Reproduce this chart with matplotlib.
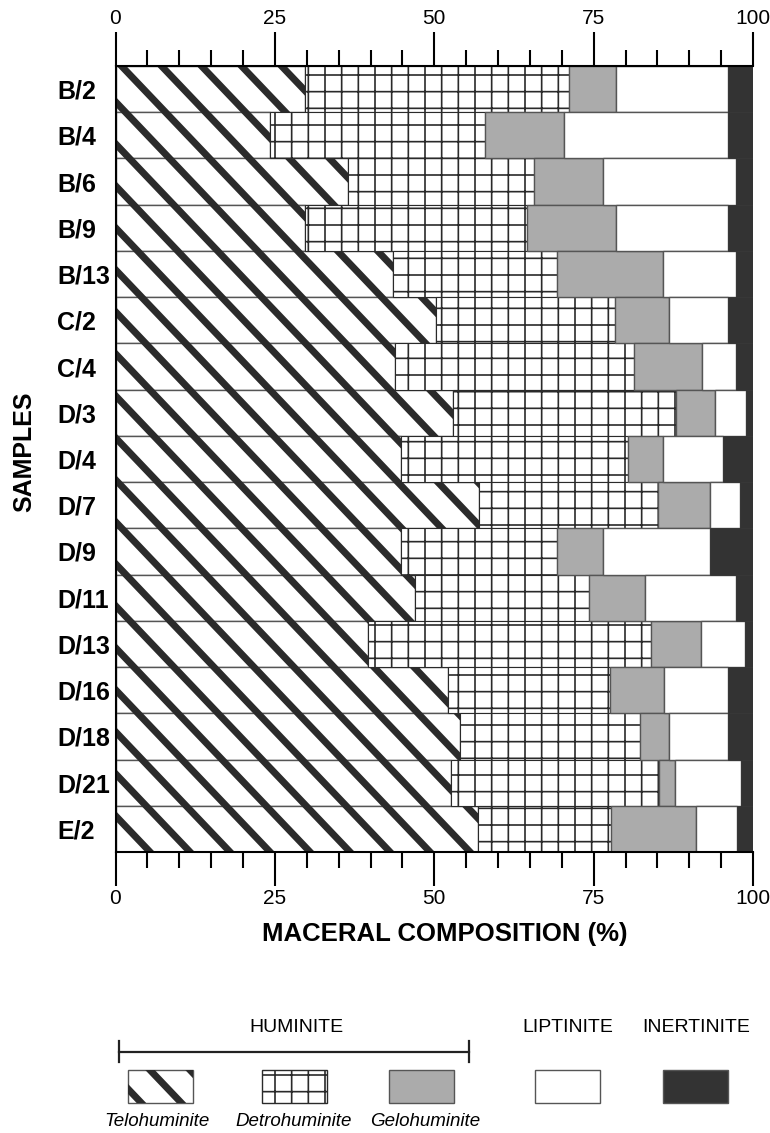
import matplotlib
matplotlib.use("Agg")
import matplotlib.pyplot as plt
from matplotlib.collections import LineCollection
from matplotlib.patches import Rectangle
from matplotlib.ticker import MultipleLocator

plt.rcParams.update({
    "font.family":     ["Liberation Sans", "DejaVu Sans"],
    "hatch.linewidth": 1.2,
})

# ---------------------------------------------------------------------------
# Datos (% de composición maceral)
# ---------------------------------------------------------------------------
samples = ["B/2", "B/4", "B/6", "B/9", "B/13", "C/2", "C/4", "D/3", "D/4",
           "D/7", "D/9", "D/11", "D/13", "D/16", "D/18", "D/21", "E/2"]
telohuminite  = [29.8, 24.2, 36.5, 29.8, 43.5, 50.2, 43.8, 52.9, 44.8,
                 57.0, 44.8, 47.0, 39.6, 52.2, 54.1, 52.7, 56.8]
detrohuminite = [41.3, 33.7, 29.2, 34.8, 25.7, 28.2, 37.6, 35.0, 35.6,
                 28.1, 24.5, 27.2, 44.4, 25.3, 28.1, 32.6, 21.0]
gelohuminite  = [7.4, 12.4, 10.8, 13.9, 16.7, 8.5, 10.6, 6.2, 5.5,
                 8.2, 7.2, 8.8, 7.8, 8.6, 4.7, 2.5, 13.2]
liptinite     = [17.6, 25.8, 20.8, 17.6, 11.4, 9.2, 5.3, 4.8, 9.4,
                 4.7, 16.8, 14.3, 7.0, 10.0, 9.2, 10.3, 6.5]
inertinite    = [3.9, 3.9, 2.7, 3.9, 2.7, 3.9, 2.7, 1.1, 4.7,
                 2.0, 6.7, 2.7, 1.2, 3.9, 3.9, 1.9, 2.5]

STRIPE = "#2b2b2b"
EDGE   = "#555555"
GELO   = "#ababab"
INERT  = "#333333"

W, H = 770, 1133
AX_L, AX_R, AX_T, AX_B = 115.5, 753.0, 66.0, 852.0
PX_X = (AX_R - AX_L) / 100.0
PX_Y = (AX_B - AX_T) / len(samples)
SLOPE = 1.05      # pendiente de las franjas (px abajo por px a la derecha)
SPACING = 40.0    # separación horizontal de franjas (px)


def add_stripes(ax, rect, to_data, box, anchor):
    """Franjas diagonales gruesas (telohuminita) recortadas al rectángulo."""
    x0, y0, x1, y1 = box
    ax_, ay_ = anchor
    segs = []
    for k in range(-60, 60):
        xa = ax_ + k * SPACING
        xt = xa + (y0 - ay_) / SLOPE
        xb = xa + (y1 - ay_) / SLOPE
        if xb < x0 - 10 or xt > x1 + 10:
            continue
        segs.append([to_data(xt - 5, y0 - 5 * SLOPE), to_data(xb + 5, y1 + 5 * SLOPE)])
    lc = LineCollection(segs, colors=STRIPE, linewidths=5.0,
                        capstyle="butt", zorder=rect.get_zorder() + 0.1)
    ax.add_collection(lc, autolim=False)
    lc.set_clip_path(rect)


fig = plt.figure(figsize=(W / 100, H / 100), dpi=100)
ax = fig.add_axes([AX_L / W, 1 - AX_B / H, (AX_R - AX_L) / W, (AX_B - AX_T) / H])

ypos = list(range(len(samples)))
left = [0.0] * len(samples)

def main_to_data(xp, yp):
    return ((xp - AX_L) / PX_X, (yp - AX_T) / PX_Y - 0.5)

bars_t = ax.barh(ypos, telohuminite, left=left, height=1.0,
                 color="white", edgecolor=EDGE, linewidth=1.0, zorder=2)
for i, p in enumerate(bars_t.patches):
    add_stripes(ax, p, main_to_data,
                (AX_L, AX_T + i * PX_Y, AX_L + telohuminite[i] * PX_X, AX_T + (i + 1) * PX_Y),
                (AX_L + 6.0, AX_T))
left = [l + v for l, v in zip(left, telohuminite)]

ax.barh(ypos, detrohuminite, left=left, height=1.0, color="white",
        edgecolor="#2a2a2a", hatch="+", linewidth=0.8, zorder=2)
left = [l + v for l, v in zip(left, detrohuminite)]

ax.barh(ypos, gelohuminite, left=left, height=1.0, color=GELO,
        edgecolor=EDGE, linewidth=1.0, zorder=2)
left = [l + v for l, v in zip(left, gelohuminite)]

ax.barh(ypos, liptinite, left=left, height=1.0, color="white",
        edgecolor=EDGE, linewidth=1.0, zorder=2)
left = [l + v for l, v in zip(left, liptinite)]

ax.barh(ypos, inertinite, left=left, height=1.0, color=INERT,
        edgecolor=INERT, linewidth=0.5, zorder=2)

ax.set_xlim(0, 100)
ax.set_ylim(len(samples) - 0.5, -0.5)

ax.xaxis.set_major_locator(MultipleLocator(25))
ax.xaxis.set_minor_locator(MultipleLocator(5))
ax.tick_params(axis="x", which="both", top=True, bottom=True,
               labeltop=True, labelbottom=True, direction="out",
               width=1.5, color="black")
ax.tick_params(axis="x", which="major", length=24.5, pad=2.5, labelsize=15)
ax.tick_params(axis="x", which="minor", length=11.5)

ax.set_yticks(ypos, samples)
ax.tick_params(axis="y", length=0, pad=42)
for lbl in ax.get_yticklabels():
    lbl.set_horizontalalignment("left")
    lbl.set_fontweight("bold")
    lbl.set_fontsize(18)

for side in ("top", "bottom", "left"):
    ax.spines[side].set_linewidth(1.5)
    ax.spines[side].set_color("black")
ax.spines["right"].set_visible(False)

# ---------------------------------------------------------------------------
# Textos y leyenda en coordenadas de píxel
# ---------------------------------------------------------------------------
ov = fig.add_axes([0, 0, 1, 1], zorder=-1)
ov.set_xlim(0, W)
ov.set_ylim(H, 0)
ov.axis("off")
ov.patch.set_alpha(0)

ov.text(24, 452, "SAMPLES", rotation=90, ha="center", va="center",
        fontsize=18, fontweight="bold")
ov.text(445, 934, "MACERAL COMPOSITION (%)", ha="center", va="center",
        fontsize=18.5, fontweight="bold")

ov.text(296, 1028, "HUMINITE", ha="center", va="center", fontsize=14)
ov.text(568, 1028, "LIPTINITE", ha="center", va="center", fontsize=14)
ov.text(696, 1028, "INERTINITE", ha="center", va="center", fontsize=14)

ov.plot([119, 469], [1052, 1052], color="#222222", lw=1.6)
ov.plot([119, 119], [1041, 1062], color="#222222", lw=1.6)
ov.plot([469, 469], [1041, 1062], color="#222222", lw=1.6)

box_x = [128, 262, 389, 535, 663]
box_y, box_w, box_h = 1070, 65, 33
face = ["white", "white", GELO, "white", INERT]
hatches = [None, "+", None, None, None]
for bx, fc, ht in zip(box_x, face, hatches):
    r = Rectangle((bx, box_y), box_w, box_h, facecolor=fc,
                  edgecolor="#2a2a2a" if ht else EDGE, hatch=ht, lw=1.0)
    ov.add_patch(r)
    if bx == box_x[0]:
        add_stripes(ov, r, lambda x, y: (x, y),
                    (bx, box_y, bx + box_w, box_y + box_h), (150, box_y))

legend_labels = ["Telohuminite", "Detrohuminite", "Gelohuminite"]
for cx, lab in zip([157, 294, 425], legend_labels):
    ov.text(cx, 1121, lab, ha="center", va="center", fontsize=13.5,
            style="italic")

fig.savefig("out.png", dpi=100)
